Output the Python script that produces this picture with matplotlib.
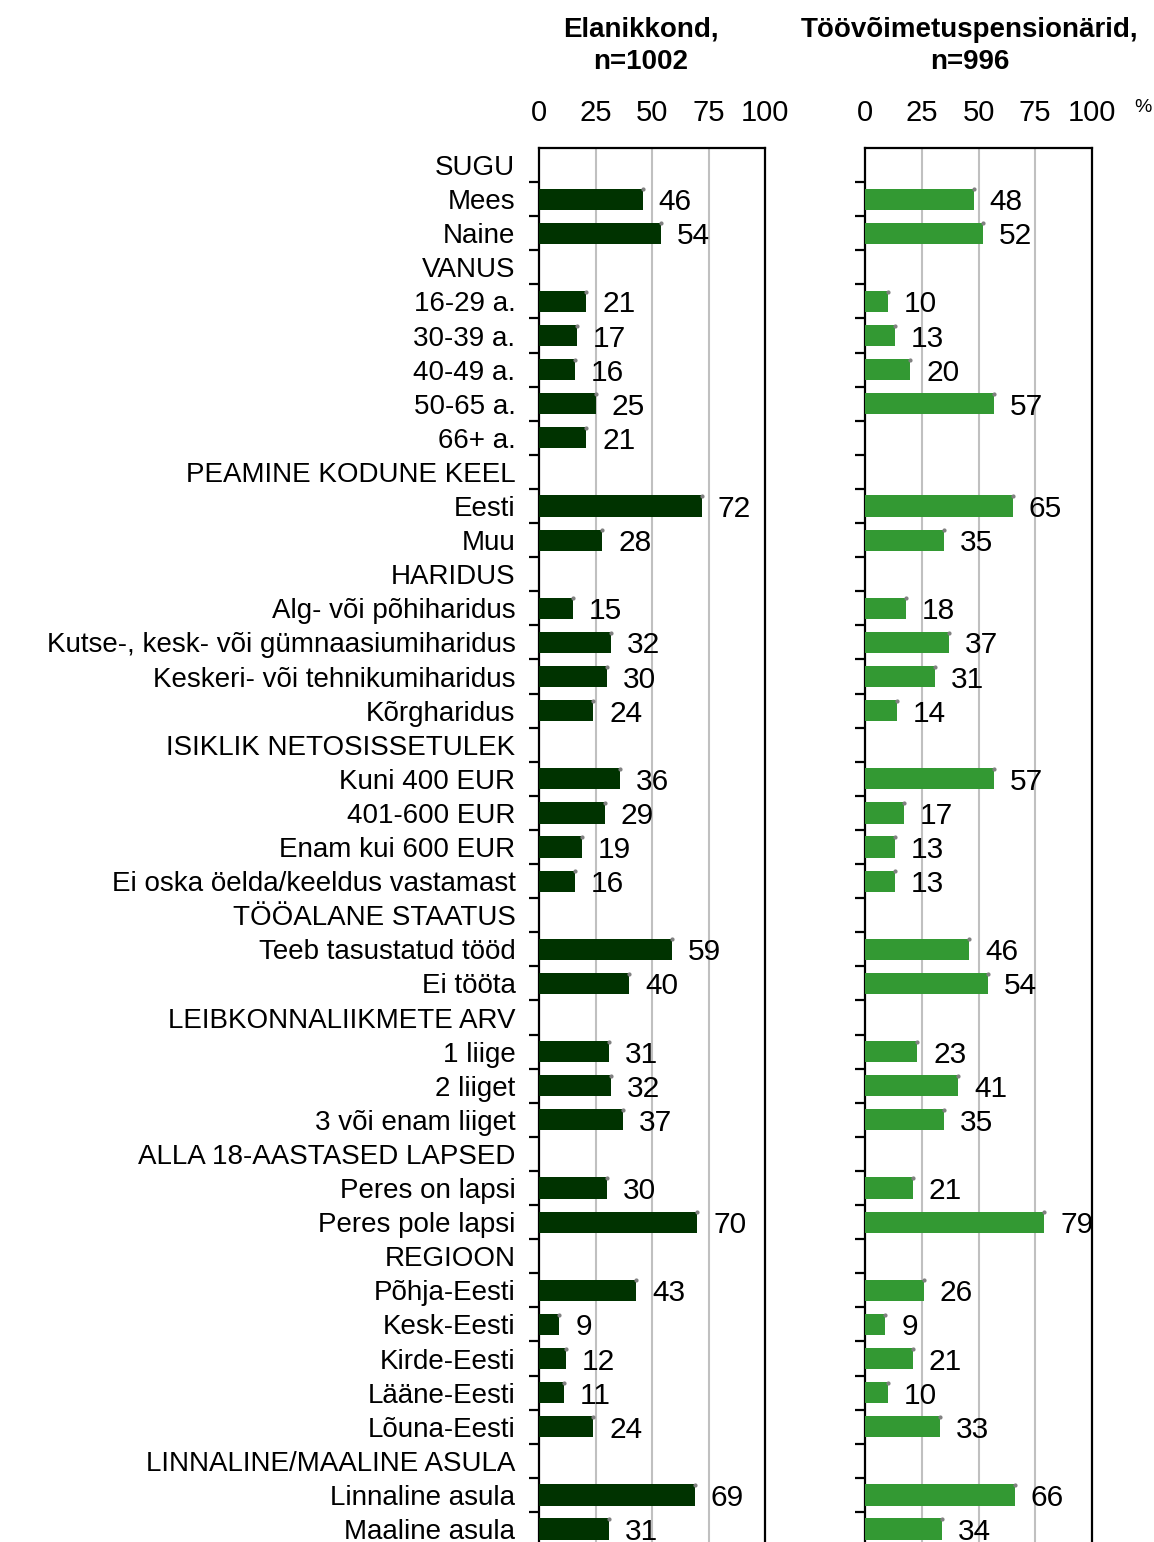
import numpy as np
import matplotlib
matplotlib.use("Agg")
import matplotlib.pyplot as plt

plt.rcParams['font.family'] = ['Liberation Sans', 'DejaVu Sans']

# Row labels (headers have no bars)
labels = [
    "SUGU", "Mees", "Naine",
    "VANUS", "16-29 a.", "30-39 a.", "40-49 a.", "50-65 a.", "66+ a.",
    "PEAMINE KODUNE KEEL", "Eesti", "Muu",
    "HARIDUS", "Alg- või põhiharidus", "Kutse-, kesk- või gümnaasiumiharidus",
    "Keskeri- või tehnikumiharidus", "Kõrgharidus",
    "ISIKLIK NETOSISSETULEK", "Kuni 400 EUR", "401-600 EUR", "Enam kui 600 EUR",
    "Ei oska öelda/keeldus vastamast",
    "TÖÖALANE STAATUS", "Teeb tasustatud tööd", "Ei tööta",
    "LEIBKONNALIIKMETE ARV", "1 liige", "2 liiget", "3 või enam liiget",
    "ALLA 18-AASTASED LAPSED", "Peres on lapsi", "Peres pole lapsi",
    "REGIOON", "Põhja-Eesti", "Kesk-Eesti", "Kirde-Eesti", "Lääne-Eesti", "Lõuna-Eesti",
    "LINNALINE/MAALINE ASULA", "Linnaline asula", "Maaline asula",
]

# None = header row / no value
elanikkond = [
    None, 46, 54,
    None, 21, 17, 16, 25, 21,
    None, 72, 28,
    None, 15, 32, 30, 24,
    None, 36, 29, 19, 16,
    None, 59, 40,
    None, 31, 32, 37,
    None, 30, 70,
    None, 43, 9, 12, 11, 24,
    None, 69, 31,
]
pensionarid = [
    None, 48, 52,
    None, 10, 13, 20, 57, None,
    None, 65, 35,
    None, 18, 37, 31, 14,
    None, 57, 17, 13, 13,
    None, 46, 54,
    None, 23, 41, 35,
    None, 21, 79,
    None, 26, 9, 21, 10, 33,
    None, 66, 34,
]

titles = ["Elanikkond,\nn=1002", "Töövõimetuspensionärid,\nn=996"]
colors = ["#003300", "#339933"]
xticks = [0, 25, 50, 75, 100]

W, H = 1154, 1542
fig = plt.figure(figsize=(W / 100, H / 100), dpi=100)

row_h = 34.1
top_px = 148
n = len(labels)
ymax = n - 0.5 + 0.15
ax_h = (ymax + 0.5) * row_h

panels = [(539, 765), (865, 1092)]
title_x = [0.45, 0.46]
ypos = np.arange(n)

for i, (vals, (x0, x1)) in enumerate(zip([elanikkond, pensionarid], panels)):
    ax = fig.add_axes([x0 / W, 1 - (top_px + ax_h) / H, (x1 - x0) / W, ax_h / H])
    idx = [k for k, v in enumerate(vals) if v is not None]
    v = [vals[k] for k in idx]
    ax.barh(idx, v, height=0.62, color=colors[i], zorder=3)
    # small grey end markers seen at the bar tips
    ax.plot(v, np.array(idx) - 0.29, ls="none", marker="o", ms=2.0,
            color="#808080", zorder=4)
    for k, val in zip(idx, v):
        ax.text(val + 7, k, str(val), va="center_baseline", ha="left",
                fontsize=21.5, zorder=5)
    ax.set_xlim(0, 100)
    ax.set_ylim(ymax, -0.5)
    for g in [25, 50, 75]:
        ax.axvline(g, color="#c0c0c0", lw=1.5, zorder=1)
    ax.spines["bottom"].set_visible(False)
    for s in ["left", "top", "right"]:
        ax.spines[s].set_linewidth(1.6)
    ax.xaxis.tick_top()
    ax.set_xticks(xticks)
    ax.set_xticklabels([str(t) for t in xticks], fontsize=21)
    ax.tick_params(axis="x", length=0, pad=15)
    ax.set_yticks(np.arange(n) + 0.5, minor=True)
    ax.set_yticks(ypos)
    ax.tick_params(axis="y", which="major", length=0, pad=17)
    ax.tick_params(axis="y", which="minor", length=7, width=1.6, direction="out")
    if i == 0:
        ax.set_yticklabels(labels, fontsize=20)
    else:
        ax.set_yticklabels([])
    ax.set_title(titles[i], fontsize=20, fontweight="bold", pad=57, x=title_x[i],
                 linespacing=1.3)

fig.text(1143 / W, 1 - 108 / H, "%", fontsize=14, ha="center", va="center")

fig.savefig("out.png", dpi=100)
